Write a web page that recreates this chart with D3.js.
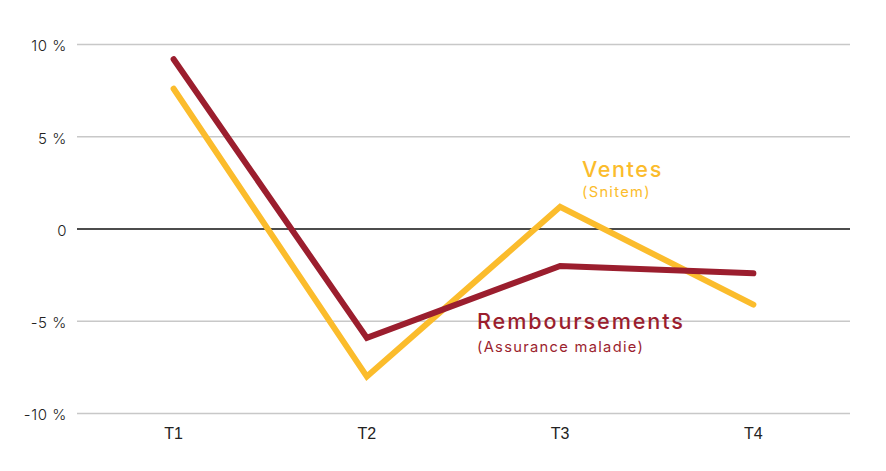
<!DOCTYPE html>
<html><head><meta charset="utf-8">
<script src="https://cdn.jsdelivr.net/npm/d3@7"></script>
<style>body{margin:0;background:#fff}svg{display:block}text{font-family:Inter,"Open Sans",sans-serif}</style>
</head><body><svg id="c" width="886" height="471"></svg>
<script>
const categories = ["T1","T2","T3","T4"];
const ventes = [7.6, -8.0, 1.2, -4.1];
const remboursements = [9.2, -5.9, -2.0, -2.4];
const yTicks = [-10, -5, 0, 5, 10];
const yTickLabels = ["-10 %", "-5 %", "0", "5 %", "10 %"];

(function(){
const svg = d3.select("#c");
const mL = 77, mR = 850, mT = 44.5, mB = 413.5;
const x = d3.scalePoint().domain(categories).range([mL, mR]).padding(0.5);
const y = d3.scaleLinear().domain([-10, 10]).range([mB, mT]);

const colY = "#FBBC2C", colR = "#9B1E2E";

svg.append("g").selectAll("line").data(yTicks).join("line")
  .attr("x1", mL).attr("x2", mR)
  .attr("y1", d => y(d)).attr("y2", d => y(d))
  .attr("stroke", d => d === 0 ? "#111" : "#c8c8c8")
  .attr("stroke-width", d => d === 0 ? 1.3 : 1.5);

svg.append("g").selectAll("text").data(yTicks).join("text")
  .attr("x", 67).attr("y", d => y(d) + 1.5).attr("dy", "0.35em")
  .attr("text-anchor", "end").attr("font-size", 15).attr("font-weight", 300)
  .attr("letter-spacing", 0.6).attr("fill", "#222")
  .text((d, i) => yTickLabels[i]);

svg.append("g").selectAll("text").data(categories).join("text")
  .attr("x", d => x(d)).attr("y", 439)
  .attr("text-anchor", "middle").attr("font-size", 16)
  .style("font-family", "'Liberation Sans', Arial, sans-serif").attr("fill", "#222")
  .text(d => d);

const line = d3.line().x((d, i) => x(categories[i])).y(d => y(d));
svg.append("path").datum(ventes).attr("d", line)
  .attr("fill", "none").attr("stroke", colY).attr("stroke-width", 6)
  .attr("stroke-linejoin", "miter").attr("stroke-linecap", "round");
svg.append("path").datum(remboursements).attr("d", line)
  .attr("fill", "none").attr("stroke", colR).attr("stroke-width", 6)
  .attr("stroke-linejoin", "miter").attr("stroke-linecap", "round");

svg.append("text").attr("x", 582).attr("y", 176.5).attr("font-size", 21.6).attr("font-weight", 500)
  .attr("letter-spacing", 1.6).attr("fill", colY).text("Ventes");
svg.append("text").attr("x", 582).attr("y", 197).attr("font-size", 14.7).attr("font-weight", 400)
  .attr("letter-spacing", 1.3).attr("fill", colY).text("(Snitem)");
svg.append("text").attr("x", 477).attr("y", 329).attr("font-size", 21.6).attr("font-weight", 500)
  .attr("letter-spacing", 1.9).attr("fill", colR).text("Remboursements");
svg.append("text").attr("x", 477).attr("y", 351.5).attr("font-size", 14.7).attr("font-weight", 400)
  .attr("letter-spacing", 1.3).attr("fill", colR).text("(Assurance maladie)");
})();
</script></body></html>
